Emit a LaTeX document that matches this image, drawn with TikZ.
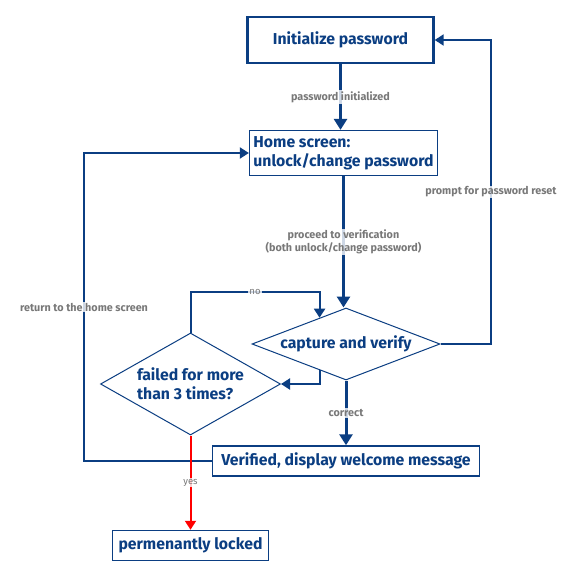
\documentclass[tikz,border=0pt]{standalone}
\usepackage{fontspec}
\setmainfont{Fira Sans}
\usetikzlibrary{shapes.geometric,arrows.meta,calc}
\definecolor{navy}{RGB}{11,62,130}
\definecolor{lblgray}{RGB}{120,120,120}
\tikzset{
  block/.style={draw=navy, text=navy, inner sep=0pt, font=\bfseries\fontsize{15.8}{19}\selectfont},
  decision/.style={block, diamond, line width=1pt},
  lbl/.style={fill=white, fill opacity=0.8, text opacity=1, text=lblgray, inner sep=1pt, font=\bfseries\fontsize{10.8}{12.5}\selectfont},
  flow/.style={draw=navy, line width=3pt, -{Triangle[length=11pt,width=13pt]}},
  link/.style={draw=navy, line width=2pt, line join=miter, -{Triangle[length=9pt,width=11pt]}}
}
\begin{document}
\begin{tikzpicture}[x=1pt, y=-1pt]
	\useasboundingbox[fill=white] (0,0) rectangle (570,578);
	% boxes
	\node (init) at (340.5,40) [block, line width=2.4pt, minimum width=186pt, minimum height=46pt] {Initialize password};
	\node (home) at (343.5,153) [block, line width=1.3pt, minimum width=188pt, minimum height=45pt, align=left] {Home screen:\\unlock/change password};
	\node (capture) at (346,344) [decision, aspect=2.6, minimum width=188pt, minimum height=72pt] {capture and verify};
	\node (failed) at (190.5,384) [decision, aspect=1.76, minimum width=180pt, minimum height=102pt, align=left] {failed for more\\than 3 times?};
	\node (verified) at (346,461) [block, line width=1.5pt, minimum width=267pt, minimum height=30pt] {Verified, display welcome message};
	\node (locked) at (190.5,545.5) [block, line width=1.5pt, minimum width=156pt, minimum height=30pt] {permenantly locked};
	% rails
	\coordinate (leftrail) at (84,300);
	\coordinate (rightrail) at (491,300);
	\coordinate (nolevel) at (250,292);
	\coordinate (noin) at ($(capture.west)!0.72!(capture.north)$);
	\coordinate (noout) at ($(capture.west)!0.72!(capture.south)$);
	% connectors
	\draw[flow] (init.south) -- node[lbl]{password initialized} (init.south |- home.north);
	\draw[flow] (home.south) -- node[lbl, align=center]{proceed to verification\\(both unlock/change password)} (home.south |- capture.north);
	\draw[flow] (capture.south) -- node[lbl]{correct} (verified.north);
	\draw[link] (capture.east) -- (capture.east -| rightrail) -- node[lbl]{prompt for password reset} (init.east -| rightrail) -- (init.east);
	\draw[link] (verified.west) -- (verified.west -| leftrail) -- node[lbl]{return to the home screen} (home.west -| leftrail) -- (home.west);
	\draw[link] (failed.north) -- (failed.north |- nolevel) -- node[lbl, font=\fontsize{9.5}{11}\selectfont]{no} (noin |- nolevel) -- (noin);
	\draw[link] (noout) |- (failed.east);
	\draw[link, draw=red, fill=red] (failed.south) -- node[lbl, font=\fontsize{9.5}{11}\selectfont]{yes} (locked.north);
\end{tikzpicture}
\end{document}
